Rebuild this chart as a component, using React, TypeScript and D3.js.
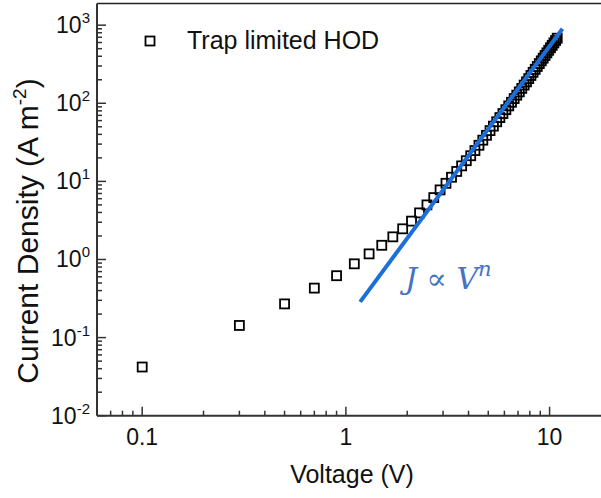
import { useEffect, useRef } from "react";
import * as d3 from "d3";

// measured current density of the trap limited HOD device
const voltage = [
  0.1, 0.3, 0.5, 0.7, 0.9, 1.1, 1.3, 1.5, 1.7, 1.9, 2.1, 2.3, 2.5, 2.7, 2.9,
  3.1, 3.3, 3.5, 3.7, 3.9, 4.1, 4.3, 4.5, 4.7, 4.9, 5.1, 5.3, 5.5, 5.7, 5.9,
  6.1, 6.3, 6.5, 6.7, 6.9, 7.1, 7.3, 7.5, 7.7, 7.9, 8.1, 8.3, 8.5, 8.7, 8.9,
  9.1, 9.3, 9.5, 9.7, 9.9, 10.1, 10.3, 10.5, 10.7, 10.9,
];
const current = [
  0.042, 0.143, 0.27, 0.43, 0.62, 0.88, 1.18, 1.52, 1.95, 2.47, 3.1, 3.95, 5.0,
  6.2, 7.78, 9.45, 11.3, 13.4, 15.8, 18.4, 21.3, 24.8, 29.0, 33.7, 38.9, 44.7,
  51.0, 58.0, 65.6, 73.9, 82.8, 92.6, 103, 115, 127, 140, 155, 171, 188, 207,
  227, 249, 272, 296, 322, 349, 378, 409, 442, 477, 514, 552, 593, 636, 681,
];

// power law fit J ~ V^n, end points
const fitV = [1.175, 11.57];
const fitJ = [0.287, 900];

const xTicks = [0.1, 1, 10];
const xTickLabels = ["0.1", "1", "10"];
const yTicks = [0.01, 0.1, 1, 10, 100, 1000];
const yExponents = ["-2", "-1", "0", "1", "2", "3"];

const legendLabel = "Trap limited HOD";

export default function App() {
  const ref = useRef<SVGSVGElement | null>(null);

  useEffect(() => {
    document.body.style.margin = "0";
    const width = 601;
    const height = 498;
    const left = 97;
    const top = 3.4;
    const bottom = 415.7;
    const font = "Arial, 'Liberation Sans', sans-serif";

    const svg = d3.select(ref.current);
    svg.selectAll("*").remove();

    const x = d3
      .scaleLog()
      .domain([0.06, 20])
      .range([left, left + 203.7 * Math.log10(20 / 0.06)]);
    const y = d3.scaleLog().domain([0.01, 1900]).range([bottom, top]);

    // frame
    svg
      .append("line")
      .attr("x1", left)
      .attr("x2", width)
      .attr("y1", top)
      .attr("y2", top)
      .attr("stroke", "#222")
      .attr("stroke-width", 1.5);

    const axisColor = "#333";
    svg
      .append("line")
      .attr("x1", left)
      .attr("x2", width)
      .attr("y1", bottom)
      .attr("y2", bottom)
      .attr("stroke", axisColor)
      .attr("stroke-width", 2);
    svg
      .append("line")
      .attr("x1", left)
      .attr("x2", left)
      .attr("y1", top)
      .attr("y2", bottom)
      .attr("stroke", axisColor)
      .attr("stroke-width", 2);

    // x ticks (inward)
    const xMinor: number[] = [];
    [0.01, 0.1, 1, 10].forEach((d) => {
      for (let k = 2; k <= 9; k++) xMinor.push(d * k);
    });
    svg
      .append("g")
      .selectAll("line")
      .data(xMinor.filter((v) => x(v) > left + 1 && x(v) < width))
      .enter()
      .append("line")
      .attr("x1", (d) => x(d))
      .attr("x2", (d) => x(d))
      .attr("y1", bottom)
      .attr("y2", bottom - 5)
      .attr("stroke", axisColor)
      .attr("stroke-width", 1.5);
    svg
      .append("g")
      .selectAll("line")
      .data(xTicks)
      .enter()
      .append("line")
      .attr("x1", (d) => x(d))
      .attr("x2", (d) => x(d))
      .attr("y1", bottom)
      .attr("y2", bottom - 9)
      .attr("stroke", axisColor)
      .attr("stroke-width", 1.5);
    svg
      .append("g")
      .selectAll("text")
      .data(xTicks)
      .enter()
      .append("text")
      .attr("x", (d) => x(d))
      .attr("y", 445)
      .attr("text-anchor", "middle")
      .style("font-family", font)
      .style("font-size", "23px")
      .attr("fill", "#111")
      .text((d, i) => xTickLabels[i]);

    // y ticks (inward)
    const yMinor: number[] = [];
    [0.01, 0.1, 1, 10, 100, 1000].forEach((d) => {
      for (let k = 2; k <= 9; k++) yMinor.push(d * k);
    });
    svg
      .append("g")
      .selectAll("line")
      .data(yMinor.filter((v) => y(v) > top + 1))
      .enter()
      .append("line")
      .attr("x1", left)
      .attr("x2", left + 5)
      .attr("y1", (d) => y(d))
      .attr("y2", (d) => y(d))
      .attr("stroke", axisColor)
      .attr("stroke-width", 1.5);
    svg
      .append("g")
      .selectAll("line")
      .data(yTicks)
      .enter()
      .append("line")
      .attr("x1", left)
      .attr("x2", left + 9)
      .attr("y1", (d) => y(d))
      .attr("y2", (d) => y(d))
      .attr("stroke", axisColor)
      .attr("stroke-width", 1.5);
    const yLab = svg
      .append("g")
      .selectAll("text")
      .data(yTicks)
      .enter()
      .append("text")
      .attr("x", 90)
      .attr("y", (d) => y(d) + 8)
      .attr("text-anchor", "end")
      .style("font-family", font)
      .style("font-size", "23px")
      .attr("fill", "#111");
    yLab.append("tspan").text("10");
    yLab
      .append("tspan")
      .attr("dy", -10)
      .style("font-size", "15px")
      .text((d, i) => yExponents[i]);

    // axis titles
    svg
      .append("text")
      .attr("x", 352)
      .attr("y", 483)
      .attr("text-anchor", "middle")
      .style("font-family", font)
      .style("font-size", "25px")
      .attr("fill", "#111")
      .text("Voltage (V)");
    const yTitle = svg
      .append("text")
      .attr("transform", "translate(38," + 231 + ")rotate(-90)")
      .attr("text-anchor", "middle")
      .style("font-family", font)
      .style("font-size", "30px")
      .attr("fill", "#111");
    yTitle.append("tspan").text("Current Density (A m");
    yTitle
      .append("tspan")
      .attr("dy", -12)
      .style("font-size", "19px")
      .text("-2");
    yTitle.append("tspan").attr("dy", 12).text(")");

    // data squares
    const data = voltage.map((v, i) => ({ v, j: current[i] }));
    svg
      .append("g")
      .selectAll("rect")
      .data(data)
      .enter()
      .append("rect")
      .attr("x", (d) => x(d.v) - 4.5)
      .attr("y", (d) => y(d.j) - 4.5)
      .attr("width", 9)
      .attr("height", 9)
      .attr("fill", "none")
      .attr("stroke", "#000")
      .attr("stroke-width", 1.8);

    // fit line
    const line = d3
      .line<number>()
      .x((d, i) => x(d))
      .y((d, i) => y(fitJ[i]));
    svg
      .append("path")
      .attr("d", line(fitV))
      .attr("fill", "none")
      .attr("stroke", "#1c6fd9")
      .attr("stroke-width", 4);

    // fit label
    const fitLabel = svg
      .append("text")
      .attr("x", 405)
      .attr("y", 289)
      .style("font-family", "'DejaVu Serif', serif")
      .style("font-size", "30px")
      .attr("fill", "#4472c4");
    fitLabel.append("tspan").style("font-style", "italic").text("J");
    fitLabel.append("tspan").text(" \u221d ");
    fitLabel.append("tspan").style("font-style", "italic").text("V");
    fitLabel
      .append("tspan")
      .attr("dy", -13)
      .style("font-style", "italic")
      .style("font-size", "21px")
      .text("n");

    // legend
    svg
      .append("rect")
      .attr("x", 145.5)
      .attr("y", 36.5)
      .attr("width", 9)
      .attr("height", 9)
      .attr("fill", "none")
      .attr("stroke", "#000")
      .attr("stroke-width", 1.8);
    svg
      .append("text")
      .attr("x", 187)
      .attr("y", 49)
      .style("font-family", font)
      .style("font-size", "25px")
      .attr("fill", "#111")
      .text(legendLabel);

    svg.attr("width", width).attr("height", height);
  }, []);

  return <svg ref={ref} width={601} height={498} style={{ display: "block" }} />;
}
